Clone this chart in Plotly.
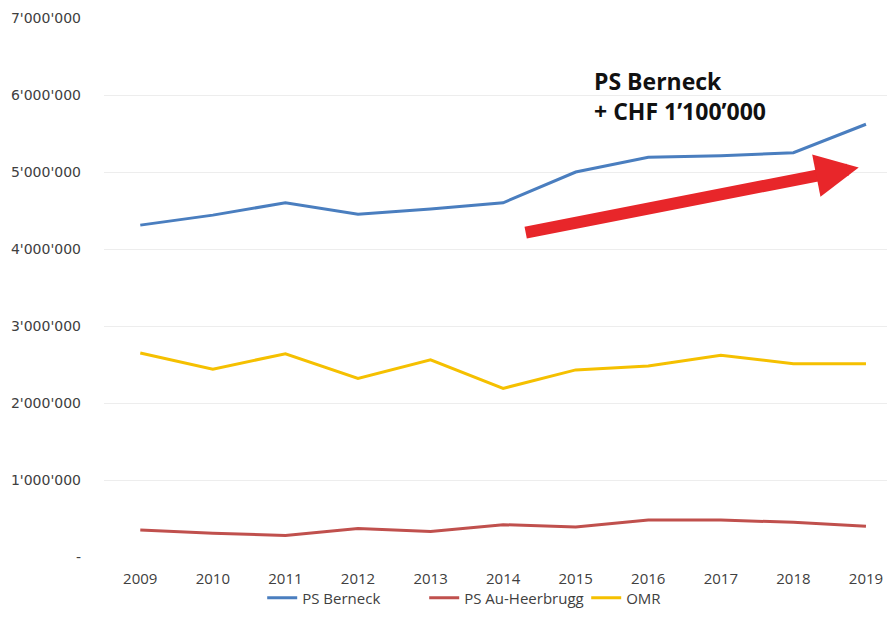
import plotly.graph_objects as go

years = [2009, 2010, 2011, 2012, 2013, 2014, 2015, 2016, 2017, 2018, 2019]
ps_berneck = [4310000, 4440000, 4600000, 4450000, 4520000, 4600000, 5000000, 5190000, 5210000, 5250000, 5620000]
ps_au_heerbrugg = [350000, 310000, 280000, 370000, 330000, 420000, 390000, 480000, 480000, 450000, 400000]
omr = [2650000, 2440000, 2640000, 2320000, 2560000, 2190000, 2430000, 2480000, 2620000, 2510000, 2510000]

y_ticks = [0, 1000000, 2000000, 3000000, 4000000, 5000000, 6000000, 7000000]
y_tick_labels = ["-", "1'000'000", "2'000'000", "3'000'000", "4'000'000", "5'000'000", "6'000'000", "7'000'000"]

arrow_start = (2014.29, 4210000)
arrow_end = (2018.9, 5060000)
note_lines = ["PS Berneck", "+ CHF 1’100’000"]

fig = go.Figure()
series = [("PS Berneck", ps_berneck, "#4a7ebf"),
          ("PS Au-Heerbrugg", ps_au_heerbrugg, "#c0504d"),
          ("OMR", omr, "#f5c000")]
for name, vals, col in series:
    fig.add_trace(go.Scatter(x=years, y=vals, mode="lines", name=name,
                             line=dict(color=col, width=3)))

fig.add_annotation(x=arrow_end[0], y=arrow_end[1], ax=arrow_start[0], ay=arrow_start[1],
                   xref="x", yref="y", axref="x", ayref="y", text="",
                   showarrow=True, arrowhead=2, arrowsize=0.72, arrowwidth=12,
                   arrowcolor="#e8262a", standoff=0)

fig.add_annotation(x=2015.22, y=5990000, xref="x", yref="y", xanchor="left", yanchor="middle",
                   text="<br>".join(note_lines), showarrow=False, align="left",
                   font=dict(family="Open Sans", size=23, color="#111111", weight="bold"))

fig.update_layout(
    width=887, height=618,
    margin=dict(l=96, r=0, t=10, b=69),
    paper_bgcolor="white", plot_bgcolor="white",
    font=dict(family="Open Sans", color="#595959", size=15),
    showlegend=True,
    legend=dict(orientation="h", x=0.2, xanchor="left", y=-0.076, yanchor="middle",
                bgcolor="rgba(0,0,0,0)", entrywidth=117,
                font=dict(family="Open Sans", size=15, color="#404040"), itemwidth=30, tracegroupgap=0),
)
fig.update_xaxes(range=[2008.5, 2019.4], tickmode="array", tickvals=years,
                 ticktext=[str(y) for y in years], showgrid=False, zeroline=False,
                 showline=False, ticks="", ticklabelstandoff=11,
                 tickfont=dict(family="Open Sans", size=15, color="#404040"))
fig.update_yaxes(range=[0, 7000000], tickmode="array", tickvals=y_ticks, ticktext=y_tick_labels,
                 showgrid=True, gridcolor="#ededed", gridwidth=1, zeroline=False,
                 ticklabelstandoff=22, tickfont=dict(family="DejaVu Sans", size=14, color="#404040"))

fig.write_html("out.html")
